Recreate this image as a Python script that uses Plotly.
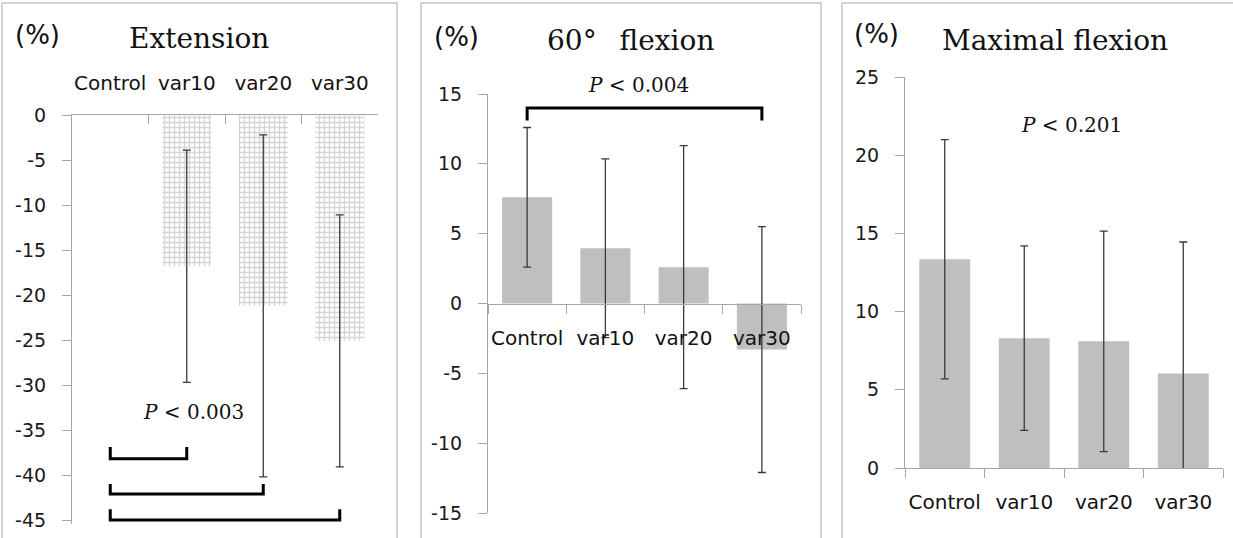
import plotly.graph_objects as go

W, H = 1233, 538

categories = ["Control", "var10", "var20", "var30"]

ext_mean = [0, -16.8, -21.2, -25.1]
ext_err = [None, 12.9, 19.0, 14.0]

flex60_mean = [7.6, 3.95, 2.6, -3.3]
flex60_err = [5.0, 6.4, 8.7, 8.8]

maxflex_mean = [13.35, 8.3, 8.1, 6.05]
maxflex_err = [7.65, 5.9, 7.05, 8.4]

ext_ticks = [0, -5, -10, -15, -20, -25, -30, -35, -40, -45]
flex60_ticks = [15, 10, 5, 0, -5, -10, -15]
maxflex_ticks = [25, 20, 15, 10, 5, 0]

# significance brackets: (from, to, y_horizontal, y_tip)
ext_brackets = [("Control", "var10", -38.2, -36.9),
                ("Control", "var20", -42.1, -41.0),
                ("Control", "var30", -45.0, -43.8)]
flex60_brackets = [("Control", "var30", 14.0, 13.1)]

p_texts = ["P < 0.003", "P < 0.004", "P < 0.201"]
titles = ["Extension", "60°\u2002 flexion", "Maximal flexion"]


def px(x):
    return x / W


def py(y):
    return 1 - y / H


BAR = "#bfbfbf"
AX = "#a6a6a6"
ERR = "#3a3a3a"
SANS = "DejaVu Sans"
SERIF = "DejaVu Serif"

fig = go.Figure()

err_style = dict(type="data", visible=True, color=ERR, thickness=1.3, width=4)

# panel 1 bars (patterned) + error bars only where defined
fig.add_trace(go.Bar(
    x=categories, y=ext_mean, xaxis="x", yaxis="y",
    marker=dict(color="white", line=dict(width=0),
                pattern=dict(shape="+", fgcolor="#a9a9a9", bgcolor="white",
                             size=5, solidity=0.45)),
    showlegend=False))
idx = [i for i, e in enumerate(ext_err) if e is not None]
fig.add_trace(go.Scatter(
    x=[categories[i] for i in idx], y=[ext_mean[i] for i in idx],
    mode="markers", marker=dict(size=1, opacity=0), xaxis="x", yaxis="y",
    error_y=dict(array=[ext_err[i] for i in idx], **err_style),
    showlegend=False, hoverinfo="skip"))

fig.add_trace(go.Bar(
    x=categories, y=flex60_mean, xaxis="x2", yaxis="y2",
    error_y=dict(array=flex60_err, **err_style),
    marker=dict(color=BAR, line=dict(width=0)), showlegend=False))

fig.add_trace(go.Bar(
    x=categories, y=maxflex_mean, xaxis="x3", yaxis="y3",
    error_y=dict(array=maxflex_err, **err_style),
    marker=dict(color=BAR, line=dict(width=0)), showlegend=False))

for (a, b, yh, yt) in ext_brackets:
    fig.add_trace(go.Scatter(x=[a, a, b, b], y=[yt, yh, yh, yt], mode="lines",
                             xaxis="x", yaxis="y",
                             line=dict(color="black", width=3), showlegend=False,
                             hoverinfo="skip"))
for (a, b, yh, yt) in flex60_brackets:
    fig.add_trace(go.Scatter(x=[a, a, b, b], y=[yt, yh, yh, yt], mode="lines",
                             xaxis="x2", yaxis="y2",
                             line=dict(color="black", width=3), showlegend=False,
                             hoverinfo="skip"))

tickfont = dict(family=SANS, size=19, color="#1a1a1a")
catfont = dict(family=SANS, size=20, color="#111111")

yax_common = dict(showline=True, linecolor=AX, linewidth=1.2, ticks="outside",
                  ticklen=9, tickcolor=AX, tickwidth=1.2, showgrid=False,
                  zeroline=False, tickfont=tickfont, ticklabelstandoff=12,
                  automargin=False)
xax_common = dict(type="category", showline=True, linecolor=AX, linewidth=1.2,
                  tickcolor=AX, tickwidth=1.2, ticklen=9, tickson="boundaries",
                  showgrid=False, zeroline=False, tickfont=catfont, tickangle=0,
                  categoryorder="array", categoryarray=categories, automargin=False)


def ticktext(vals):
    return [str(v) for v in vals]


# panel 1 (range padded a touch so the lowest bracket is not clipped)
ext_range = [-45.4, 0]
y1_dom = [py(520 + 0.4 * 9), py(115)]
fig.update_layout(
    xaxis=dict(domain=[px(72), px(378)], anchor="y", side="top", ticks="inside",
               ticklabelstandoff=16, **xax_common),
    yaxis=dict(domain=y1_dom, range=ext_range, tickvals=ext_ticks,
               ticktext=ticktext(ext_ticks), anchor="x", **yax_common),
)
# panel 2 (x axis crossing at zero)
y2_dom = [py(513), py(94)]
zero_pos = y2_dom[0] + (y2_dom[1] - y2_dom[0]) * 0.5
fig.update_layout(
    xaxis2=dict(domain=[px(488), px(801)], anchor="free", position=zero_pos,
                side="bottom", ticks="outside", ticklabelstandoff=16, **xax_common),
    yaxis2=dict(domain=y2_dom, range=[-15, 15], tickvals=flex60_ticks,
                ticktext=ticktext(flex60_ticks), anchor="x2", **yax_common),
)
# panel 3
y3_dom = [py(468), py(77)]
fig.update_layout(
    xaxis3=dict(domain=[px(905), px(1223)], anchor="y3", side="bottom",
                ticks="outside", ticklabelstandoff=16, **xax_common),
    yaxis3=dict(domain=y3_dom, range=[0, 25], tickvals=maxflex_ticks,
                ticktext=ticktext(maxflex_ticks), anchor="x3", **yax_common),
)

shapes = []
for (l, r) in [(2, 397), (421, 821), (842, 1245)]:
    shapes.append(dict(type="rect", xref="paper", yref="paper",
                       x0=px(l), x1=px(r), y0=py(3), y1=-0.05,
                       line=dict(color="#c3c3c3", width=1.5), fillcolor="rgba(0,0,0,0)",
                       layer="below"))

annotations = []
for (cx, cy) in [(37, 35), (457, 37), (877, 34)]:
    annotations.append(dict(text="(%)", x=px(cx), y=py(cy), xref="paper", yref="paper",
                            showarrow=False, xanchor="center", yanchor="middle",
                            font=dict(family=SANS, size=26, color="#111111")))
for t, (cx, cy) in zip(titles, [(199, 38), (630, 40), (1055, 40)]):
    annotations.append(dict(text=t, x=px(cx), y=py(cy), xref="paper", yref="paper",
                            showarrow=False, xanchor="center", yanchor="middle",
                            font=dict(family=SERIF, size=28, color="#111111")))
for t, (cx, cy) in zip(p_texts, [(193, 412), (638, 85), (1071, 125)]):
    txt = "<i>P</i> &lt; " + t.split("< ")[1]
    annotations.append(dict(text=txt, x=px(cx), y=py(cy), xref="paper", yref="paper",
                            showarrow=False, xanchor="center", yanchor="middle",
                            font=dict(family=SERIF, size=20, color="#111111")))

fig.update_layout(
    width=W, height=H, margin=dict(l=0, r=0, t=0, b=0),
    paper_bgcolor="white", plot_bgcolor="rgba(0,0,0,0)",
    bargap=0.36, shapes=shapes, annotations=annotations,
)

fig.write_html("out.html", config={"displayModeBar": False},
               post_script="document.body.style.margin='0px';"
                           "document.body.style.overflow='hidden';")
